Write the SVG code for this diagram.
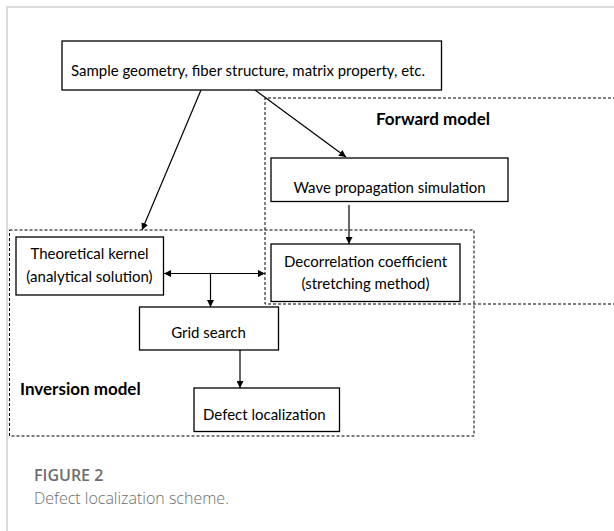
<svg xmlns="http://www.w3.org/2000/svg" width="614" height="531" viewBox="0 0 614 531">
  <style>
    .box { fill: #fff; stroke: #000; stroke-width: 1.3; }
    .zone { fill: none; stroke: #000; stroke-width: 1; stroke-dasharray: 3 2; }
    .lbl { font-family: Lato, "Open Sans", "Liberation Sans", sans-serif; font-size: 15px; fill: #000; }
    .ttl { font-family: Lato, "Open Sans", "Liberation Sans", sans-serif; font-size: 17px; font-weight: bold; fill: #000; }
    .cap { font-family: "Open Sans", "Liberation Sans", sans-serif; font-size: 16px; fill: #6d6d6d; }
    .wire { fill: none; stroke: #000; stroke-width: 1.2; }
  </style>
  <defs>
    <marker id="arrow" viewBox="0 0 10 10" refX="10" refY="5" markerWidth="7" markerHeight="7" orient="auto-start-reverse" markerUnits="userSpaceOnUse">
      <path d="M0,0 L10,5 L0,10 z" fill="#000"/>
    </marker>
  </defs>

  <rect width="614" height="531" fill="#fff"/>
  <!-- page frame -->
  <path d="M614,7 H7 V531" fill="none" stroke="#cfcfcf" stroke-width="1.5"/>

  <!-- dashed regions -->
  <g id="forward-model">
    <path class="zone" d="M616,98 H265 V304 H616"/>
    <text class="ttl" x="376" y="125">Forward model</text>
  </g>
  <g id="inversion-model">
    <rect class="zone" x="9.5" y="230" width="464.5" height="206"/>
    <text class="ttl" x="20" y="395">Inversion model</text>
  </g>

  <!-- connectors -->
  <g id="connectors">
    <line class="wire" x1="255" y1="90" x2="346" y2="157" marker-end="url(#arrow)"/>
    <line class="wire" x1="201" y1="90" x2="142" y2="230" marker-end="url(#arrow)"/>
    <line class="wire" x1="349" y1="205" x2="349" y2="244" marker-end="url(#arrow)"/>
    <line class="wire" x1="164" y1="273.5" x2="265" y2="273.5" marker-start="url(#arrow)" marker-end="url(#arrow)"/>
    <line class="wire" x1="210.5" y1="273.5" x2="210.5" y2="307" marker-end="url(#arrow)"/>
    <line class="wire" x1="240" y1="350" x2="240" y2="388" marker-end="url(#arrow)"/>
  </g>

  <g id="inputs">
    <rect class="box" x="62" y="41" width="379.5" height="49"/>
    <text class="lbl" x="71" y="76" textLength="354" lengthAdjust="spacingAndGlyphs">Sample geometry, fiber structure, matrix property, etc.</text>
  </g>
  <g id="wave-simulation">
    <rect class="box" x="271" y="158" width="237" height="43.5"/>
    <text class="lbl" x="389.5" y="192.5" text-anchor="middle">Wave propagation simulation</text>
  </g>
  <g id="theoretical-kernel">
    <rect class="box" x="16" y="237" width="147.5" height="58"/>
    <text class="lbl" x="89.5" y="259" text-anchor="middle">Theoretical kernel</text>
    <text class="lbl" x="89.5" y="282" text-anchor="middle">(analytical solution)</text>
  </g>
  <g id="decorrelation">
    <rect class="box" x="271" y="244" width="189" height="57.5"/>
    <text class="lbl" x="365.5" y="267" text-anchor="middle">Decorrelation coefficient</text>
    <text class="lbl" x="365.5" y="289" text-anchor="middle">(stretching method)</text>
  </g>
  <g id="grid-search">
    <rect class="box" x="139.5" y="307" width="139" height="43"/>
    <text class="lbl" x="208.5" y="338" text-anchor="middle">Grid search</text>
  </g>
  <g id="defect-localization">
    <rect class="box" x="194" y="388" width="145.5" height="43.5"/>
    <text class="lbl" x="203" y="420">Defect localization</text>
  </g>

  <!-- caption -->
  <text class="cap" x="34" y="481" font-weight="600" fill="#777">FIGURE 2</text>
  <text class="cap" x="34" y="504" font-weight="300" fill="#808080">Defect localization scheme.</text>
</svg>
